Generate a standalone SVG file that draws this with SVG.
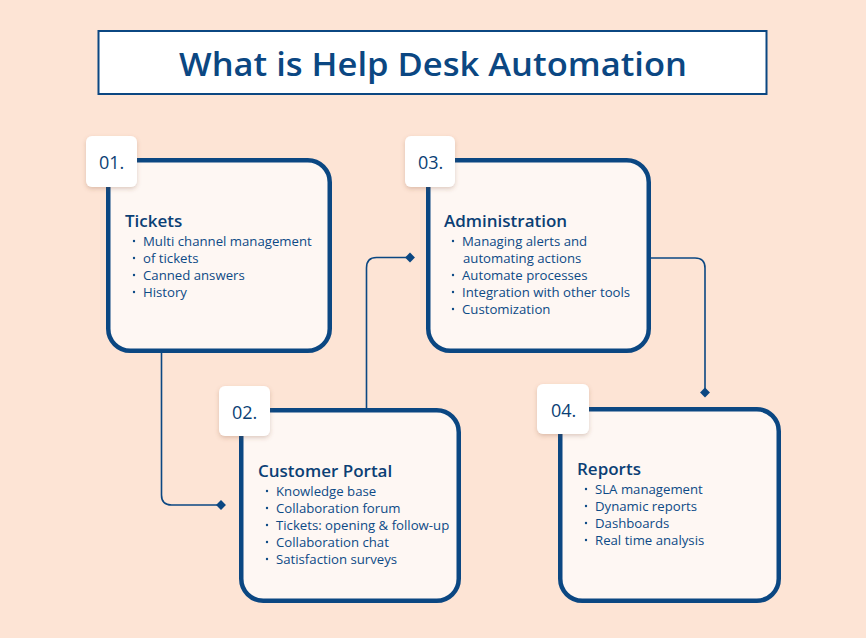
<svg xmlns="http://www.w3.org/2000/svg" width="866" height="638" viewBox="0 0 866 638">
<defs>
<style>
.card{fill:#fef7f3;stroke:#0b4782;stroke-width:4.5}
.tag{fill:#ffffff}
.num{font-family:"Open Sans","Liberation Sans",sans-serif;font-size:18px;fill:#0b3f75}
.head{font-family:"Open Sans","Liberation Sans",sans-serif;font-size:17px;font-weight:600;fill:#0b3f75}
.item{font-family:"Open Sans","Liberation Sans",sans-serif;font-size:13.2px;fill:#0d4a86}
.dot{fill:#0d4a86}
.conn{fill:none;stroke:#0b4782;stroke-width:1.6}
.dia{fill:#0b4782}
</style>
<filter id="sh" x="-20%" y="-20%" width="150%" height="150%">
<feDropShadow dx="0" dy="2" stdDeviation="2" flood-color="#7a4a30" flood-opacity="0.25"/>
</filter>
</defs>
<rect width="866" height="638" fill="#fde4d5"/>

<g id="title">
<rect x="98.5" y="31" width="668" height="63" fill="#ffffff" stroke="#0b4782" stroke-width="2"/>
<text x="179" y="76" textLength="508" lengthAdjust="spacingAndGlyphs" font-family="Open Sans, Liberation Sans, sans-serif" font-size="33" font-weight="600" fill="#0b4782">What is Help Desk Automation</text>
</g>

<g id="connectors">
<path class="conn" d="M161.5 353 V495 Q161.5 505 171.5 505 H220"/>
<rect class="dia" x="217.5" y="501.5" width="7" height="7" transform="rotate(45 221 505)"/>
<path class="conn" d="M366.5 408 V268 Q366.5 257.5 376.5 257.5 H408"/>
<rect class="dia" x="406.5" y="254" width="7" height="7" transform="rotate(45 410 257.5)"/>
<path class="conn" d="M651 258 H695 Q705 258 705 268 V390"/>
<rect class="dia" x="701.5" y="389" width="7" height="7" transform="rotate(45 705 392.5)"/>
</g>

<g id="node1">
<rect class="card" x="108.25" y="160.25" width="221.5" height="190.5" rx="22"/>
<rect class="tag" x="86" y="136" width="51" height="51" rx="6" filter="url(#sh)"/>
<text class="num" x="99" y="169">01.</text>
<text class="head" x="125" y="227">Tickets</text>
<circle class="dot" cx="134" cy="241" r="1.2"/><text class="item" x="143" y="246">Multi channel management</text>
<circle class="dot" cx="134" cy="258" r="1.2"/><text class="item" x="143" y="263">of tickets</text>
<circle class="dot" cx="134" cy="275" r="1.2"/><text class="item" x="143" y="280">Canned answers</text>
<circle class="dot" cx="134" cy="292" r="1.2"/><text class="item" x="143" y="297">History</text>
</g>

<g id="node2">
<rect class="card" x="241.25" y="410.25" width="217.5" height="190.5" rx="22"/>
<rect class="tag" x="219" y="386" width="51" height="50" rx="6" filter="url(#sh)"/>
<text class="num" x="232" y="419">02.</text>
<text class="head" x="258" y="477">Customer Portal</text>
<circle class="dot" cx="267" cy="491" r="1.2"/><text class="item" x="276" y="496">Knowledge base</text>
<circle class="dot" cx="267" cy="508" r="1.2"/><text class="item" x="276" y="513">Collaboration forum</text>
<circle class="dot" cx="267" cy="525" r="1.2"/><text class="item" x="276" y="530">Tickets: opening &amp; follow-up</text>
<circle class="dot" cx="267" cy="542" r="1.2"/><text class="item" x="276" y="547">Collaboration chat</text>
<circle class="dot" cx="267" cy="559" r="1.2"/><text class="item" x="276" y="564">Satisfaction surveys</text>
</g>

<g id="node3">
<rect class="card" x="428.25" y="160.25" width="220.5" height="190.5" rx="22"/>
<rect class="tag" x="405" y="136" width="50" height="51" rx="6" filter="url(#sh)"/>
<text class="num" x="418" y="169">03.</text>
<text class="head" x="444" y="227">Administration</text>
<circle class="dot" cx="453" cy="241" r="1.2"/><text class="item" x="462" y="246">Managing alerts and</text>
<text class="item" x="463" y="263">automating actions</text>
<circle class="dot" cx="453" cy="275" r="1.2"/><text class="item" x="462" y="280">Automate processes</text>
<circle class="dot" cx="453" cy="292" r="1.2"/><text class="item" x="462" y="297">Integration with other tools</text>
<circle class="dot" cx="453" cy="309" r="1.2"/><text class="item" x="462" y="314">Customization</text>
</g>

<g id="node4">
<rect class="card" x="560.25" y="409.25" width="218.5" height="191.5" rx="22"/>
<rect class="tag" x="537" y="384" width="52" height="50" rx="6" filter="url(#sh)"/>
<text class="num" x="551" y="417">04.</text>
<text class="head" x="577" y="475">Reports</text>
<circle class="dot" cx="586" cy="489" r="1.2"/><text class="item" x="595" y="494">SLA management</text>
<circle class="dot" cx="586" cy="506" r="1.2"/><text class="item" x="595" y="511">Dynamic reports</text>
<circle class="dot" cx="586" cy="523" r="1.2"/><text class="item" x="595" y="528">Dashboards</text>
<circle class="dot" cx="586" cy="540" r="1.2"/><text class="item" x="595" y="545">Real time analysis</text>
</g>
</svg>
